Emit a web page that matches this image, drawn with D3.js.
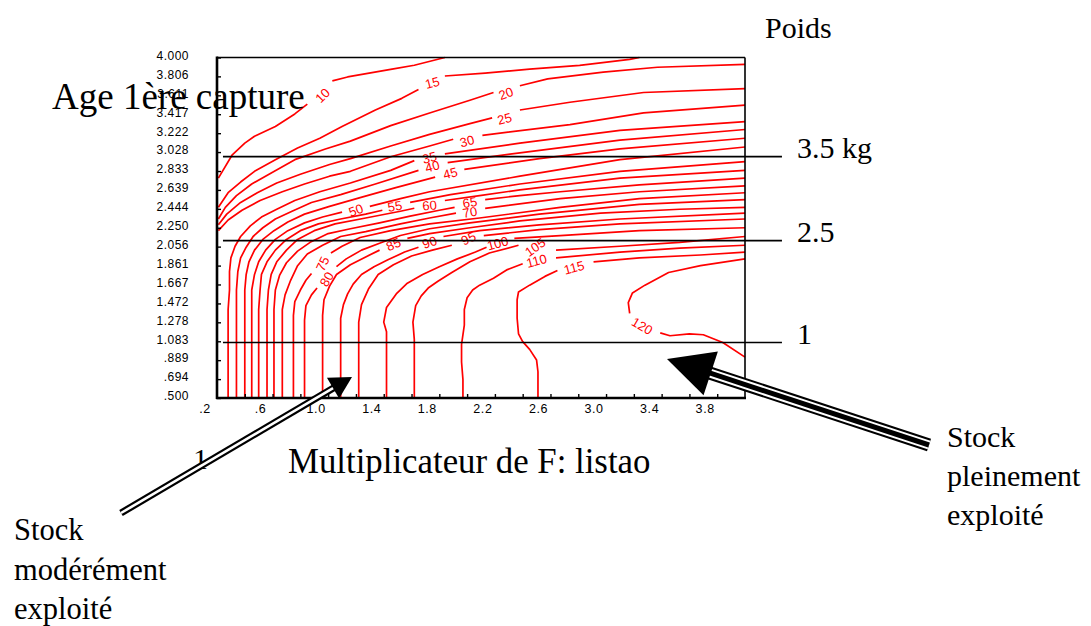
<!DOCTYPE html>
<html>
<head>
<meta charset="utf-8">
<script src="https://cdn.jsdelivr.net/npm/d3@7"></script>
<style>
  body { margin: 0; background: #fff; }
  svg { display: block; }
</style>
</head>
<body>
<div id="container"></div>
<script>
const width = 1091;
const height = 626;

// F multiplier (x) and age at first capture (y)
const fTickMarks = [0.4, 0.6, 0.8, 1.0, 1.2, 1.4, 1.6, 1.8, 2.0, 2.2, 2.4, 2.6, 2.8, 3.0, 3.2, 3.4, 3.6, 3.8];
const fLabelValues = [0.2, 0.6, 1.0, 1.4, 1.8, 2.2, 2.6, 3.0, 3.4, 3.8];
const fLabelText = [".2", ".6", "1.0", "1.4", "1.8", "2.2", "2.6", "3.0", "3.4", "3.8"];
const ageTicks = [4.000, 3.806, 3.611, 3.417, 3.222, 3.028, 2.833, 2.639, 2.444, 2.250, 2.056, 1.861, 1.667, 1.472, 1.278, 1.083, 0.889, 0.694, 0.500];
const ageLabels = ["4.000", "3.806", "3.611", "3.417", "3.222", "3.028", "2.833", "2.639", "2.444", "2.250", "2.056", "1.861", "1.667", "1.472", "1.278", "1.083", ".889", ".694", ".500"];

// isolines of yield, each one as [F, age] pieces (gap where the label sits)
const levels = [10, 15, 20, 25, 30, 35, 40, 45, 50, 55, 60, 65, 70, 75, 80, 85, 90, 95, 100, 105, 110, 115, 120];
const c10 = [[[0.21,2.76],[0.31,3.00],[0.40,3.12],[0.47,3.19],[0.62,3.29],[0.76,3.42],[0.85,3.52]],
             [[1.03,3.76],[1.14,3.80],[1.46,3.88],[1.62,3.92],[1.84,4.0]]];
const c15 = [[[0.21,2.46],[0.28,2.61],[0.37,2.72],[0.47,2.83],[0.62,2.95],[0.78,3.07],[0.94,3.17],[1.10,3.29],[1.34,3.46],[1.53,3.58],[1.65,3.67]],
             [[1.84,3.81],[2.13,3.84],[2.45,3.88],[2.81,3.92],[3.17,3.98],[3.24,4.0]]];
const c20 = [[[0.21,2.34],[0.26,2.46],[0.34,2.58],[0.45,2.70],[0.60,2.82],[0.76,2.95],[0.98,3.06],[1.16,3.14],[1.45,3.30],[1.73,3.43],[2.02,3.56],[2.19,3.64]],
             [[2.38,3.71],[2.58,3.78],[2.98,3.85],[3.37,3.90],[4.0,3.93]]];
const c25 = [[[0.21,2.28],[0.27,2.39],[0.37,2.51],[0.49,2.61],[0.63,2.71],[0.80,2.80],[1.01,2.90],[1.16,2.96],[1.45,3.09],[1.73,3.21],[2.02,3.32],[2.18,3.38]],
             [[2.38,3.46],[2.74,3.54],[3.27,3.64],[4.0,3.68]]];
const c30 = [[[0.21,2.22],[0.28,2.33],[0.38,2.43],[0.51,2.53],[0.67,2.62],[0.83,2.70],[1.01,2.78],[1.16,2.83],[1.45,2.98],[1.73,3.09],[1.90,3.16]],
             [[2.11,3.20],[2.74,3.31],[3.27,3.43],[4.0,3.51]]];
const c35 = [[[0.28,0.50],[0.28,1.10],[0.28,1.41],[0.29,1.61],[0.29,1.80],[0.30,1.94],[0.33,2.06],[0.37,2.16],[0.44,2.27],[0.52,2.36],[0.63,2.44],[0.76,2.53],[0.94,2.62],[1.16,2.71],[1.45,2.84],[1.62,2.94]],
             [[1.84,3.01],[2.38,3.12],[3.10,3.25],[4.0,3.34]]];
const c40 = [[[0.34,0.50],[0.34,1.10],[0.34,1.41],[0.34,1.61],[0.35,1.80],[0.37,1.94],[0.41,2.05],[0.46,2.16],[0.53,2.25],[0.62,2.34],[0.74,2.42],[0.88,2.51],[1.09,2.59],[1.34,2.70],[1.65,2.84]],
             [[1.86,2.92],[2.38,3.02],[3.10,3.15],[4.0,3.26]]];
const c45 = [[[0.40,0.50],[0.40,1.10],[0.40,1.41],[0.40,1.61],[0.41,1.77],[0.43,1.90],[0.47,2.02],[0.53,2.13],[0.61,2.22],[0.71,2.31],[0.83,2.39],[1.01,2.47],[1.23,2.56],[1.48,2.66],[1.77,2.77]],
             [[1.98,2.85],[2.52,2.96],[3.10,3.06],[4.0,3.17]]];
const c50 = [[[0.45,0.50],[0.45,1.10],[0.45,1.41],[0.45,1.61],[0.47,1.77],[0.50,1.90],[0.55,2.02],[0.62,2.13],[0.71,2.22],[0.83,2.30],[0.96,2.36],[1.10,2.41]],
             [[1.30,2.47],[1.52,2.55],[1.73,2.62],[2.38,2.78],[3.10,2.95],[4.0,3.08]]];
const c55 = [[[0.50,0.50],[0.50,1.10],[0.50,1.41],[0.51,1.61],[0.52,1.77],[0.56,1.90],[0.62,2.02],[0.70,2.13],[0.80,2.22],[0.93,2.29],[1.09,2.34],[1.27,2.39],[1.39,2.43]],
             [[1.59,2.51],[1.88,2.59],[2.38,2.70],[3.10,2.83],[4.0,2.93]]];
const c60 = [[[0.56,0.50],[0.56,1.10],[0.56,1.41],[0.57,1.61],[0.59,1.77],[0.63,1.90],[0.70,2.02],[0.78,2.13],[0.90,2.22],[1.05,2.29],[1.27,2.35],[1.52,2.42],[1.62,2.45]],
             [[1.84,2.53],[2.09,2.58],[2.38,2.64],[3.10,2.76],[4.0,2.84]]];
const c65 = [[[0.61,0.50],[0.61,1.10],[0.61,1.41],[0.62,1.61],[0.65,1.76],[0.70,1.89],[0.78,2.01],[0.87,2.10],[1.00,2.19],[1.16,2.24],[1.37,2.30],[1.59,2.37],[1.80,2.43],[1.91,2.46]],
             [[2.13,2.54],[2.38,2.58],[2.67,2.62],[3.24,2.69],[4.0,2.76]]];
const c70 = [[[0.67,0.50],[0.67,1.10],[0.67,1.41],[0.69,1.56],[0.73,1.71],[0.78,1.86],[0.85,1.98],[0.96,2.07],[1.09,2.16],[1.27,2.21],[1.52,2.29],[1.73,2.35],[1.92,2.40]],
             [[2.13,2.45],[2.67,2.55],[3.24,2.62],[4.0,2.68]]];
const c75 = [[[0.75,0.50],[0.75,1.10],[0.75,1.35],[0.76,1.49],[0.80,1.61],[0.84,1.71],[0.88,1.78]],
             [[1.02,1.99],[1.10,2.06],[1.23,2.15],[1.45,2.22],[1.73,2.29],[2.09,2.35],[2.67,2.46],[3.24,2.55],[4.0,2.61]]];
const c80 = [[[0.83,0.50],[0.83,1.10],[0.83,1.30],[0.84,1.45],[0.88,1.56],[0.92,1.63]],
             [[1.06,1.85],[1.13,1.93],[1.24,2.02],[1.37,2.09],[1.52,2.17],[1.73,2.24],[2.02,2.30],[2.52,2.39],[3.24,2.49],[4.0,2.54]]];
const c85 = [[[0.96,0.50],[0.96,1.10],[0.96,1.35],[0.97,1.51],[1.01,1.65],[1.06,1.77],[1.16,1.87],[1.27,1.95],[1.37,2.02]],
             [[1.57,2.14],[1.73,2.19],[2.02,2.25],[2.38,2.32],[2.96,2.40],[3.53,2.44],[4.0,2.46]]];
const c90 = [[[1.09,0.50],[1.09,1.10],[1.09,1.32],[1.11,1.46],[1.14,1.57],[1.18,1.67],[1.24,1.77],[1.33,1.85],[1.43,1.92],[1.55,2.00],[1.65,2.05]],
             [[1.83,2.16],[2.09,2.22],[2.52,2.28],[3.10,2.34],[4.0,2.40]]];
const c95 = [[[1.22,0.50],[1.22,1.10],[1.22,1.28],[1.24,1.46],[1.29,1.62],[1.36,1.77],[1.47,1.87],[1.60,1.96],[1.75,2.02],[1.89,2.07]],
             [[2.12,2.17],[2.52,2.23],[3.10,2.29],[4.0,2.34]]];
const c100 = [[[1.42,0.50],[1.42,1.10],[1.42,1.18],[1.40,1.28],[1.42,1.43],[1.49,1.57],[1.57,1.68],[1.68,1.77],[1.80,1.85],[1.93,1.93],[2.06,2.00],[2.14,2.05]],
              [[2.34,2.14],[2.67,2.17],[3.24,2.22],[4.0,2.25]]];
const c105 = [[[1.62,0.50],[1.62,1.10],[1.61,1.28],[1.63,1.45],[1.67,1.55],[1.72,1.63],[1.79,1.70],[1.89,1.79],[2.02,1.90],[2.16,1.99],[2.37,2.07]],
              [[2.64,2.02],[3.10,2.06],[3.53,2.10],[4.0,2.16]]];
const c110 = [[[1.97,0.50],[1.97,0.69],[1.96,0.87],[1.96,1.05],[1.98,1.25],[1.98,1.41],[2.00,1.53],[2.04,1.61],[2.09,1.66],[2.19,1.73],[2.29,1.82],[2.40,1.88]],
              [[2.64,1.94],[3.10,2.00],[3.53,2.04],[4.0,2.07]]];
const c115 = [[[2.51,0.50],[2.51,0.77],[2.50,0.89],[2.45,1.00],[2.40,1.08],[2.37,1.16],[2.36,1.32],[2.36,1.51],[2.37,1.59],[2.45,1.66],[2.56,1.75],[2.65,1.81]],
              [[2.91,1.90],[3.24,1.94],[3.68,1.97],[4.0,2.00]]];
const c120 = [[[4.0,1.93],[3.68,1.86],[3.45,1.79],[3.28,1.66],[3.19,1.58],[3.16,1.48],[3.17,1.37]],
              [[3.39,1.17],[3.46,1.14],[3.60,1.16],[3.70,1.15],[3.84,1.07],[4.0,0.92]]];
const contourLines = [c10, c15, c20, c25, c30, c35, c40, c45, c50, c55, c60, c65, c70, c75, c80, c85, c90, c95, c100, c105, c110, c115, c120];

// where each level's label sits [F, age]
const labelPos = [[0.96,3.61],[1.75,3.74],[2.28,3.63],[2.27,3.37],[2.00,3.14],[1.73,2.97],[1.75,2.88],[1.88,2.81],
                  [1.20,2.43],[1.48,2.47],[1.73,2.48],[2.02,2.51],[2.02,2.41],[0.96,1.88],[0.99,1.72],[1.47,2.08],
                  [1.73,2.10],[2.01,2.14],[2.22,2.09],[2.49,2.05],[2.50,1.91],[2.77,1.84],[3.26,1.24]];
const labelAngle = [-45, -15, -20, -15, -15, -15, -15, -15, -20, -10, -5, -10, -10, -65, -60, -25, -20, -25, -15, -35, -15, -15, 30];

// weight lines (age reached at a given weight)
const weightAges = [2.981, 2.118, 1.070];
const weightText = ["3.5 kg", "2.5", "1"];
const weightSpan = [0.243, 4.266];

const serif = "'Liberation Serif', 'Times New Roman', Times, serif";
const sans = "'Liberation Sans', Arial, Helvetica, sans-serif";

const svg = d3.select("#container").append("svg")
  .attr("width", width).attr("height", height)
  .style("background", "#fff");

const xScale = d3.scaleLinear().domain([0.2, 4.0]).range([217, 745]);
const yScale = d3.scaleLinear().domain([0.5, 4.0]).range([398, 57.5]);

// contours
const line = d3.line().x(d => xScale(d[0])).y(d => yScale(d[1]));
const contourGroup = svg.append("g").attr("class", "contours");
contourLines.forEach((pieces, i) => {
  contourGroup.selectAll(null).data(pieces).enter().append("path")
    .attr("d", line)
    .attr("fill", "none")
    .attr("stroke", "#ff0000")
    .attr("stroke-width", 1.7)
    .attr("stroke-linejoin", "round");
});
contourGroup.selectAll(".clabel").data(levels).enter().append("text")
  .attr("class", "clabel")
  .attr("transform", (d, i) => `translate(${xScale(labelPos[i][0])},${yScale(labelPos[i][1])}) rotate(${labelAngle[i]})`)
  .attr("text-anchor", "middle")
  .attr("dy", "0.35em")
  .attr("font-family", sans)
  .attr("font-size", 13)
  .attr("fill", "#ff0000")
  .text(d => d);

// axes
let xTickAxis = d3.axisBottom(xScale).tickValues(fTickMarks).tickSizeInner(-4).tickSizeOuter(0).tickFormat("");
let xTickGroup = svg.append("g").attr("transform", "translate(0,398)").call(xTickAxis);
xTickGroup.select(".domain").remove();
xTickGroup.selectAll("line").attr("stroke", "#000").attr("stroke-width", 1.4);

let xLabelAxis = d3.axisBottom(xScale).tickValues(fLabelValues).tickSize(0).tickPadding(6)
  .tickFormat((d, i) => fLabelText[i]);
let xLabelGroup = svg.append("g").attr("transform", "translate(0,398)").call(xLabelAxis);
xLabelGroup.select(".domain").remove();
xLabelGroup.selectAll("text").attr("dx", -12.5).attr("font-family", sans).attr("font-size", 12.5)
  .attr("letter-spacing", 0.6).attr("fill", "#000");

let yAxis = d3.axisLeft(yScale).tickValues(ageTicks).tickSizeInner(-4).tickSizeOuter(0).tickPadding(28)
  .tickFormat((d, i) => ageLabels[i]);
let yAxisGroup = svg.append("g").attr("transform", "translate(217,0)").call(yAxis);
yAxisGroup.select(".domain").remove();
yAxisGroup.selectAll("line").attr("stroke", "#000").attr("stroke-width", 1.4);
yAxisGroup.selectAll("text").attr("dy", "0.15em").attr("font-family", sans).attr("font-size", 12)
  .attr("letter-spacing", 0.5).attr("fill", "#000");

// frame
const frame = svg.append("g").attr("stroke", "#000");
frame.append("line").attr("x1", xScale(0.2)).attr("x2", xScale(4.0)).attr("y1", yScale(4.0)).attr("y2", yScale(4.0)).attr("stroke-width", 1.6);
frame.append("line").attr("x1", xScale(4.0)).attr("x2", xScale(4.0)).attr("y1", yScale(4.0)).attr("y2", yScale(0.5)).attr("stroke-width", 1.6);
frame.append("line").attr("x1", xScale(0.2)).attr("x2", xScale(0.2)).attr("y1", yScale(4.0) - 1).attr("y2", yScale(0.5) + 1).attr("stroke-width", 2.6);
frame.append("line").attr("x1", xScale(0.2) - 1).attr("x2", xScale(4.0) + 1).attr("y1", yScale(0.5)).attr("y2", yScale(0.5)).attr("stroke-width", 2.6);

// weight lines
svg.selectAll(".wline").data(weightAges).enter().append("line")
  .attr("class", "wline")
  .attr("x1", xScale(weightSpan[0])).attr("x2", xScale(weightSpan[1]))
  .attr("y1", d => yScale(d)).attr("y2", d => yScale(d))
  .attr("stroke", "#000").attr("stroke-width", 1.6);
svg.selectAll(".wlabel").data(weightAges).enter().append("text")
  .attr("class", "wlabel")
  .attr("x", 797).attr("y", d => yScale(d) + 1)
  .attr("font-family", serif).attr("font-size", 30).attr("fill", "#000")
  .text((d, i) => weightText[i]);

// titles and notes
function addText(str, x, y, size) {
  svg.append("text").attr("x", x).attr("y", y)
    .attr("font-family", serif).attr("font-size", size).attr("fill", "#000").text(str);
}
addText("Poids", 765, 38, 30);
addText("Age 1ère capture", 52, 109, 37);
addText("Multiplicateur de F: listao", 288, 473, 34.8);
addText("1", 193, 469, 30);
addText("Stock", 14, 540, 30.5);
addText("modérément", 14, 580, 30.5);
addText("exploité", 14, 619, 30.5);
addText("Stock", 947, 447, 30);
addText("pleinement", 947, 486, 30);
addText("exploité", 947, 525, 30);

// arrows
function drawArrow(tail, tip, headLen, headHalf, stripes) {
  let dx = tip[0] - tail[0], dy = tip[1] - tail[1];
  let len = Math.sqrt(dx * dx + dy * dy);
  let ux = dx / len, uy = dy / len;
  let nx = -uy, ny = ux;
  let bx = tip[0] - ux * headLen, by = tip[1] - uy * headLen;
  stripes.forEach(s => {
    svg.append("line")
      .attr("x1", tail[0]).attr("y1", tail[1])
      .attr("x2", bx + ux * 2).attr("y2", by + uy * 2)
      .attr("stroke", s[1]).attr("stroke-width", s[0]);
  });
  svg.append("path")
    .attr("d", `M${tip[0]},${tip[1]} L${bx + nx * headHalf},${by + ny * headHalf} L${bx - nx * headHalf},${by - ny * headHalf} Z`)
    .attr("fill", "#000");
}
drawArrow([121, 513], [352, 377], 22, 12, [[7, "#000"], [2.6, "#fff"]]);
drawArrow([929, 445], [667, 359], 46, 23, [[13, "#000"], [9, "#fff"], [5, "#000"]]);
</script>
</body>
</html>
